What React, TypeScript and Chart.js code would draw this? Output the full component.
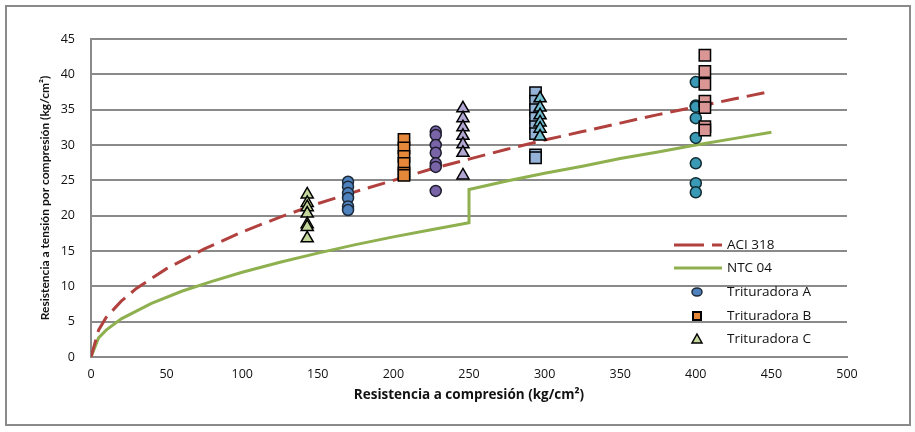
import React, { useEffect, useRef } from "react";
import { Chart, registerables } from "chart.js";

Chart.register(...registerables);

// ---- Data ----
const aciX = [0, 5, 10, 20, 30, 50, 75, 100, 125, 150, 175, 200, 225, 250, 275, 300, 325, 350, 375, 400, 425, 450];
const aciY = [0, 3.8, 5.6, 7.9, 9.7, 12.5, 15.3, 17.7, 19.8, 21.7, 23.4, 25.0, 26.6, 28.0, 29.4, 30.7, 31.9, 33.1, 34.3, 35.4, 36.5, 37.6];

const ntcX = [0, 5, 10, 20, 40, 60, 80, 100, 125, 150, 175, 200, 225, 250, 250, 275, 300, 325, 350, 375, 400, 425, 450];
const ntcY = [0, 2.7, 3.8, 5.4, 7.6, 9.3, 10.7, 12.0, 13.4, 14.7, 15.9, 17.0, 18.0, 19.0, 23.7, 24.9, 26.0, 27.0, 28.1, 29.0, 30.0, 30.9, 31.8];

// Trituradora A (circles)
const a1X = 170;
const a1Y = [24.8, 24.1, 23.2, 22.5, 21.3, 20.8];
const a2X = 228;
const a2Y = [31.9, 31.4, 30.0, 28.9, 27.4, 26.9, 23.5];
const a3X = 400;
const a3Y = [38.9, 35.6, 35.4, 33.8, 31.0, 27.4, 24.6, 23.3];

// Trituradora B (squares)
const b1X = 207;
const b1Y = [30.8, 29.6, 28.4, 27.4, 26.0, 25.7];
const b2X = 294;
const b2Y = [37.4, 36.2, 35.0, 33.8, 32.6, 31.6, 28.6, 28.2];
const b3X = 406;
const b3Y = [42.7, 40.4, 38.6, 36.2, 35.3, 32.6, 32.1];

// Trituradora C (triangles)
const c1X = 143;
const c1Y = [23.0, 21.8, 21.2, 20.3, 18.8, 18.4, 16.8];
const c2X = 246;
const c2Y = [35.2, 33.8, 32.5, 31.3, 30.1, 28.9, 25.7];
const c3X = 297;
const c3Y = [36.6, 35.3, 34.2, 33.2, 32.3, 31.2];

const xTicks = [0, 50, 100, 150, 200, 250, 300, 350, 400, 450, 500];
const yTicks = [0, 5, 10, 15, 20, 25, 30, 35, 40, 45];

const legendLabels = ["ACI 318", "NTC 04", "Trituradora A", "Trituradora B", "Trituradora C"];

const FONT = "'Open Sans', Lato, sans-serif";
const TFONT = "Lato, 'Open Sans', sans-serif";
const RED = "#b0413e";
const GREEN = "#8fb04f";

const pts = (x: number, ys: number[]) => ys.map((y) => ({ x, y }));
const line = (xs: number[], ys: number[]) => xs.map((x, i) => ({ x, y: ys[i] }));

function pointSet(x: number, ys: number[], style: string, fill: string, border: string, radius: number, order: number) {
  return {
    data: pts(x, ys),
    showLine: false,
    pointStyle: style,
    pointRadius: radius,
    pointHoverRadius: radius,
    pointBackgroundColor: fill,
    pointBorderColor: border,
    pointBorderWidth: 1.5,
    order,
  };
}

const legendPlugin = {
  id: "customLegend",
  afterDraw(chart: any) {
    const ctx = chart.ctx as CanvasRenderingContext2D;
    const x0 = 674, x1 = 722, mx = 697, tx = 727;
    const rows = [245, 268, 292, 316, 339];
    ctx.save();
    // ACI
    ctx.strokeStyle = RED;
    ctx.lineWidth = 3;
    ctx.setLineDash([30, 8]);
    ctx.beginPath();
    ctx.moveTo(x0, rows[0]);
    ctx.lineTo(x1, rows[0]);
    ctx.stroke();
    ctx.setLineDash([]);
    // NTC
    ctx.strokeStyle = GREEN;
    ctx.beginPath();
    ctx.moveTo(x0, rows[1]);
    ctx.lineTo(x1, rows[1]);
    ctx.stroke();
    // circle
    ctx.lineWidth = 1.5;
    ctx.strokeStyle = "#1c2a3a";
    ctx.fillStyle = "#4f81bd";
    ctx.beginPath();
    ctx.ellipse(mx, rows[2], 5, 4, 0, 0, Math.PI * 2);
    ctx.fill();
    ctx.stroke();
    // square
    ctx.strokeStyle = "#000";
    ctx.lineWidth = 2;
    ctx.fillStyle = "#e6883a";
    ctx.fillRect(mx - 4, rows[3] - 4, 8, 8);
    ctx.strokeRect(mx - 4, rows[3] - 4, 8, 8);
    // triangle
    ctx.lineWidth = 1.5;
    ctx.fillStyle = "#c3d69b";
    ctx.beginPath();
    ctx.moveTo(mx, rows[4] - 5);
    ctx.lineTo(mx + 5, rows[4] + 4);
    ctx.lineTo(mx - 5, rows[4] + 4);
    ctx.closePath();
    ctx.fill();
    ctx.stroke();
    // text
    ctx.fillStyle = "#111";
    ctx.font = `13.5px ${FONT}`;
    ctx.textBaseline = "middle";
    ctx.textAlign = "left";
    legendLabels.forEach((t, i) => ctx.fillText(t, tx, rows[i]));
    ctx.restore();
  },
};

export default function App() {
  const ref = useRef<HTMLCanvasElement | null>(null);

  useEffect(() => {
    document.body.style.margin = "0";
    if (!ref.current) return;
    const chart = new Chart(ref.current, {
      type: "scatter",
      data: {
        datasets: [
          pointSet(c1X, c1Y, "triangle", "#c3d69b", "#000", 7, 1),
          pointSet(c2X, c2Y, "triangle", "#b1a6d2", "#000", 7, 1),
          pointSet(c3X, c3Y, "triangle", "#72bcd0", "#000", 7, 1),
          pointSet(b1X, b1Y, "rect", "#e6883a", "#000", 8, 2),
          pointSet(b2X, b2Y, "rect", "#95b3d7", "#000", 8, 2),
          pointSet(b3X, b3Y, "rect", "#d99694", "#000", 8, 2),
          pointSet(a1X, a1Y, "circle", "#4f81bd", "#1c2a3a", 5.5, 3),
          pointSet(a2X, a2Y, "circle", "#7a64a8", "#1c1c2c", 5.5, 3),
          pointSet(a3X, a3Y, "circle", "#3a9ab5", "#102a30", 5.5, 3),
          {
            data: line(aciX, aciY),
            showLine: true,
            borderColor: RED,
            borderWidth: 3,
            borderDash: [18, 8],
            pointRadius: 0,
            fill: false,
            tension: 0,
            order: 10,
          },
          {
            data: line(ntcX, ntcY),
            showLine: true,
            borderColor: GREEN,
            borderWidth: 3,
            pointRadius: 0,
            fill: false,
            tension: 0,
            order: 10,
          },
        ] as any,
      },
      options: {
        responsive: false,
        animation: false,
        events: [],
        layout: { padding: { left: 0, top: 39, right: 68, bottom: 0 } },
        plugins: {
          legend: { display: false },
          tooltip: { enabled: false },
        },
        scales: {
          x: {
            type: "linear",
            min: 0,
            max: 500,
            afterBuildTicks: (s: any) => {
              s.ticks = xTicks.map((v) => ({ value: v }));
            },
            afterFit: (s: any) => {
              s.height = 75;
            },
            grid: { display: false, drawTicks: false },
            border: { display: true, color: "#8a8a8a", width: 2 },
            ticks: {
              padding: 10,
              color: "#111",
              font: { family: FONT, size: 12.5 },
              maxRotation: 0,
            },
            title: {
              display: true,
              text: "Resistencia a compresión (kg/cm²)",
              color: "#111",
              font: { family: FONT, size: 13.5, weight: "bold" },
              padding: { top: 0, bottom: 29 },
            },
          },
          y: {
            type: "linear",
            min: 0,
            max: 45,
            afterBuildTicks: (s: any) => {
              s.ticks = yTicks.map((v) => ({ value: v }));
            },
            afterFit: (s: any) => {
              s.width = 91;
            },
            grid: { color: "#8a8a8a", lineWidth: 2, drawTicks: false },
            border: { display: true, color: "#8a8a8a", width: 2 },
            ticks: {
              padding: 16,
              color: "#111",
              font: { family: FONT, size: 12.5 },
            },
            title: {
              display: true,
              text: "Resistencia a tensión por compresión (kg/cm²)",
              color: "#111",
              font: { family: TFONT, size: 12, weight: "bold" },
              padding: { top: 38, bottom: 0 },
            },
          },
        },
      },
      plugins: [legendPlugin],
    });
    return () => chart.destroy();
  }, []);

  return (
    <div style={{ position: "relative", width: 915, height: 432, background: "#fff" }}>
      <canvas ref={ref} width={915} height={432} style={{ width: 915, height: 432, display: "block" }} />
      <div
        style={{
          position: "absolute",
          left: 5,
          top: 5,
          width: 906,
          height: 421,
          border: "2px solid #8a8a8a",
          boxSizing: "border-box",
          pointerEvents: "none",
        }}
      />
    </div>
  );
}
